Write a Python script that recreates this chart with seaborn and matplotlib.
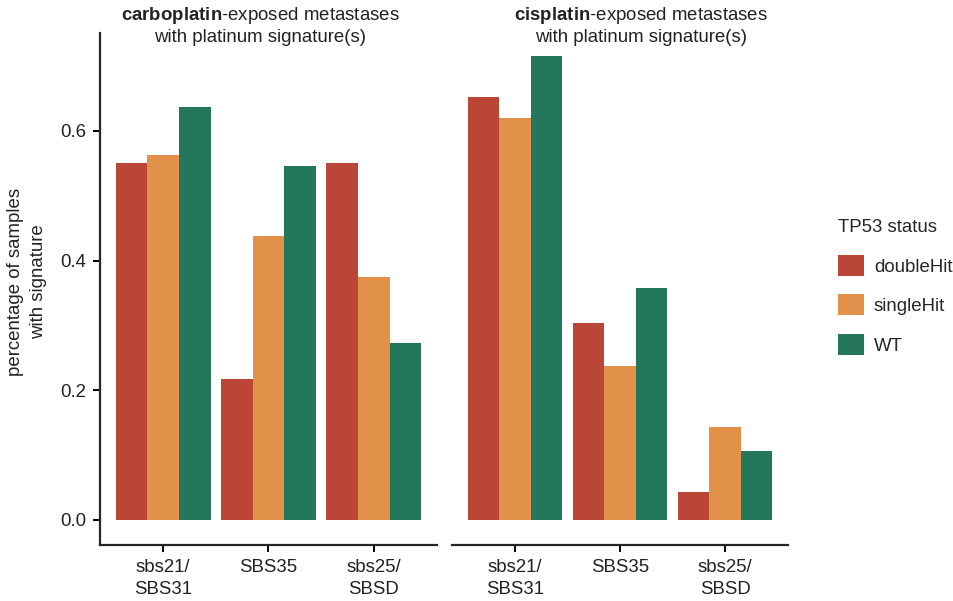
import matplotlib
matplotlib.use("Agg")
import matplotlib.pyplot as plt
import pandas as pd
import seaborn as sns

# Signature groups, TP53 status levels and fraction of samples per group
signatures = ["sbs21/\nSBS31", "SBS35", "sbs25/\nSBSD"]
status_levels = ["doubleHit", "singleHit", "WT"]

carbo_double = [0.550, 0.217, 0.550]
carbo_single = [0.563, 0.438, 0.375]
carbo_wt = [0.637, 0.546, 0.273]

cis_double = [0.652, 0.304, 0.043]
cis_single = [0.620, 0.238, 0.144]
cis_wt = [0.716, 0.358, 0.106]

status_colors = ["#B94636", "#E2914B", "#25775C"]

y_ticks = [0.0, 0.2, 0.4, 0.6]
y_tick_labels = ["0.0", "0.2", "0.4", "0.6"]


def long_table(double, single, wt):
    rows = []
    for vals, st in zip([double, single, wt], status_levels):
        for sig, v in zip(signatures, vals):
            rows.append({"signature": sig, "status": st, "fraction": v})
    return pd.DataFrame(rows)


carbo_df = long_table(carbo_double, carbo_single, carbo_wt)
cis_df = long_table(cis_double, cis_single, cis_wt)

sns.set_theme(style="ticks")
plt.rcParams["font.family"] = ["Liberation Sans", "DejaVu Sans"]
plt.rcParams["mathtext.fontset"] = "custom"
plt.rcParams["mathtext.rm"] = "Liberation Sans"
plt.rcParams["mathtext.bf"] = "Liberation Sans:bold"
plt.rcParams["mathtext.it"] = "Liberation Sans:italic"

FS = 13.4
W, H = 954, 601
fig = plt.figure(figsize=(W / 100, H / 100), dpi=100)
ax1 = fig.add_axes([100 / W, 56 / H, 337 / W, 512 / H])
ax2 = fig.add_axes([452 / W, 56 / H, 336 / W, 512 / H])

text_color = "#222222"
for ax, df in [(ax1, carbo_df), (ax2, cis_df)]:
    sns.barplot(
        data=df, x="signature", y="fraction", hue="status",
        order=signatures, hue_order=status_levels,
        palette=status_colors, saturation=1, width=0.9, gap=0,
        errorbar=None, linewidth=0, ax=ax,
    )
    ax.set_xlim(-0.6, 2.6)
    ax.set_ylim(-0.0386, 0.751)
    ax.set_xlabel("")
    ax.set_ylabel("")
    for side in ["top", "right"]:
        ax.spines[side].set_visible(False)
    ax.spines["bottom"].set_linewidth(1.6)
    ax.spines["left"].set_linewidth(1.6)
    ax.tick_params(axis="x", length=5, width=1.4, pad=5, labelsize=FS,
                   labelcolor=text_color, color="black")
    for lbl in ax.get_xticklabels():
        lbl.set_linespacing(1.4)

handles, labels = ax1.get_legend_handles_labels()
for ax in (ax1, ax2):
    leg = ax.get_legend()
    if leg is not None:
        leg.remove()

ax1.set_yticks(y_ticks)
ax1.set_yticklabels(y_tick_labels)
ax1.tick_params(axis="y", length=5, width=1.4, pad=5, labelsize=FS,
                labelcolor=text_color, color="black")

ax2.spines["left"].set_visible(False)
ax2.set_yticks([])

# Panel titles
fig.text(260 / W, 1 - 15 / H, r"$\mathbf{carboplatin}$-exposed metastases",
         ha="center", va="center", fontsize=FS, color=text_color)
fig.text(260 / W, 1 - 38 / H, "with platinum signature(s)",
         ha="center", va="center", fontsize=FS, color=text_color)
fig.text(641 / W, 1 - 15 / H, r"$\mathbf{cisplatin}$-exposed metastases",
         ha="center", va="center", fontsize=FS, color=text_color)
fig.text(641 / W, 1 - 38 / H, "with platinum signature(s)",
         ha="center", va="center", fontsize=FS, color=text_color)

# Y axis title
fig.text(27 / W, 1 - 282 / H, "percentage of samples\nwith signature",
         rotation=90, ha="center", va="center", fontsize=FS,
         color=text_color, multialignment="center", linespacing=1.42)

fig.legend(
    handles, labels, title="TP53 status",
    loc="center left", bbox_to_anchor=(831 / W, 1 - 287 / H),
    frameon=False, fontsize=FS, title_fontsize=FS,
    handlelength=1.35, handleheight=1.35, handletextpad=0.55,
    labelspacing=1.0, borderaxespad=0, alignment="left",
)

fig.savefig("out.png", dpi=100)
